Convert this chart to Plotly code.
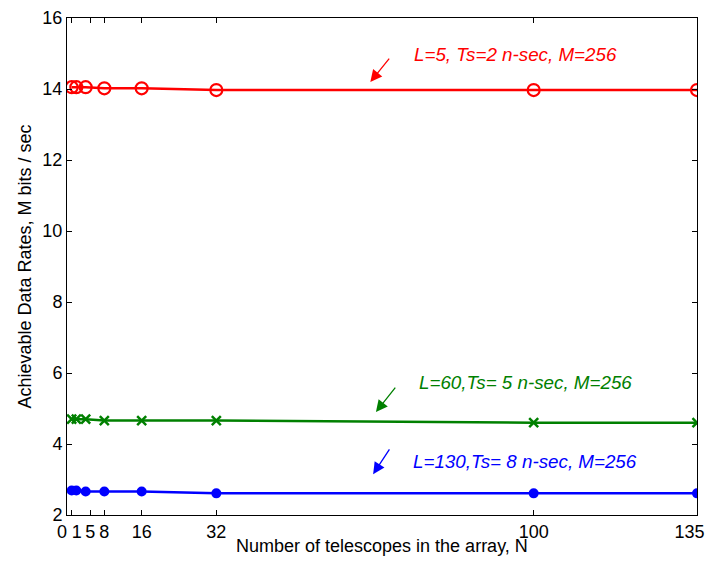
import plotly.graph_objects as go

N = [1, 2, 4, 8, 16, 32, 100, 135]
rate_L5 = [14.05, 14.05, 14.05, 14.02, 14.02, 13.97, 13.97, 13.97]
rate_L60 = [4.70, 4.70, 4.70, 4.66, 4.66, 4.66, 4.60, 4.60]
rate_L130 = [2.69, 2.69, 2.66, 2.66, 2.66, 2.61, 2.61, 2.61]

x_ticks = [0, 1, 5, 8, 16, 32, 100, 135]
x_tick_text = ["0\u00a0\u00a0", "\u00a0\u00a01", "5", "8", "16", "32", "100", "135\u00a0\u00a0\u00a0"]
y_ticks = [2, 4, 6, 8, 10, 12, 14, 16]

labels = ["L=5, Ts=2 n-sec, M=256", "L=60,Ts= 5 n-sec, M=256", "L=130,Ts= 8 n-sec, M=256"]
x_title = "Number of telescopes in the array, N"
y_title = "Achievable Data Rates, M bits / sec"

FONT = "Liberation Sans, Arial, Helvetica"

fig = go.Figure()
fig.add_trace(go.Scatter(x=N, y=rate_L5, mode="lines+markers",
                         line=dict(color="#ff0000", width=2.5),
                         marker=dict(symbol="circle-open", size=12, color="#ff0000", line=dict(width=2.2))))
fig.add_trace(go.Scatter(x=N, y=rate_L60, mode="lines+markers",
                         line=dict(color="#008000", width=2.5),
                         marker=dict(symbol="x-thin-open", size=9, color="#008000", line=dict(width=2.5, color="#008000"))))
fig.add_trace(go.Scatter(x=N, y=rate_L130, mode="lines+markers",
                         line=dict(color="#0000ff", width=2.5),
                         marker=dict(symbol="circle", size=10, color="#0000ff")))

colors = ["#ff0000", "#008000", "#0000ff"]
# text positions (data coords) and arrows (tail -> head)
text_pos = [(74.0, 14.98), (75.0, 5.72), (73.8, 3.52)]
arrows = [((69.3, 14.9), (65.0, 14.2)), ((70.6, 5.63), (66.2, 4.9)), ((69.3, 3.89), (65.6, 3.15))]

for lab, c, (tx, ty), ((x0, y0), (x1, y1)) in zip(labels, colors, text_pos, arrows):
    fig.add_annotation(x=tx, y=ty, xref="x", yref="y", text="<i>" + lab + "</i>", showarrow=False,
                       xanchor="left", yanchor="middle",
                       font=dict(family=FONT, size=18.8, color=c))
    fig.add_annotation(x=x1, y=y1, ax=x0, ay=y0, xref="x", yref="y", axref="x", ayref="y",
                       text="", showarrow=True, arrowhead=2, arrowsize=1.8, arrowwidth=1.3,
                       arrowcolor=c)

# x-axis title placed as paper annotation for exact vertical position
fig.add_annotation(x=0.5, y=0, xref="paper", yref="paper", text=x_title, showarrow=False,
                   xanchor="center", yanchor="middle", yshift=-31,
                   font=dict(family=FONT, size=18, color="black"))

# page body adds an 8px offset; compensate with size and margins
fig.update_layout(
    width=705, height=548,
    margin=dict(l=59, r=16, t=10, b=41, autoexpand=False),
    paper_bgcolor="white", plot_bgcolor="white",
    showlegend=False,
    font=dict(family=FONT, size=18, color="black"),
)
fig.update_xaxes(range=[0, 135], tickvals=x_ticks, ticktext=x_tick_text, tickangle=0,
                 ticks="inside", ticklen=5, tickcolor="black", showgrid=False, zeroline=False,
                 showline=True, linecolor="black", linewidth=1, mirror="ticks",
                 automargin=False, ticklabeloverflow="allow",
                 tickfont=dict(size=18))
fig.update_yaxes(range=[2, 16], tickvals=y_ticks,
                 ticks="inside", ticklen=5, tickcolor="black", showgrid=False, zeroline=False,
                 showline=True, linecolor="black", linewidth=1, mirror="ticks",
                 automargin=False,
                 title=dict(text=y_title, standoff=6, font=dict(size=18)),
                 tickfont=dict(size=18))

fig.write_html("out.html")
